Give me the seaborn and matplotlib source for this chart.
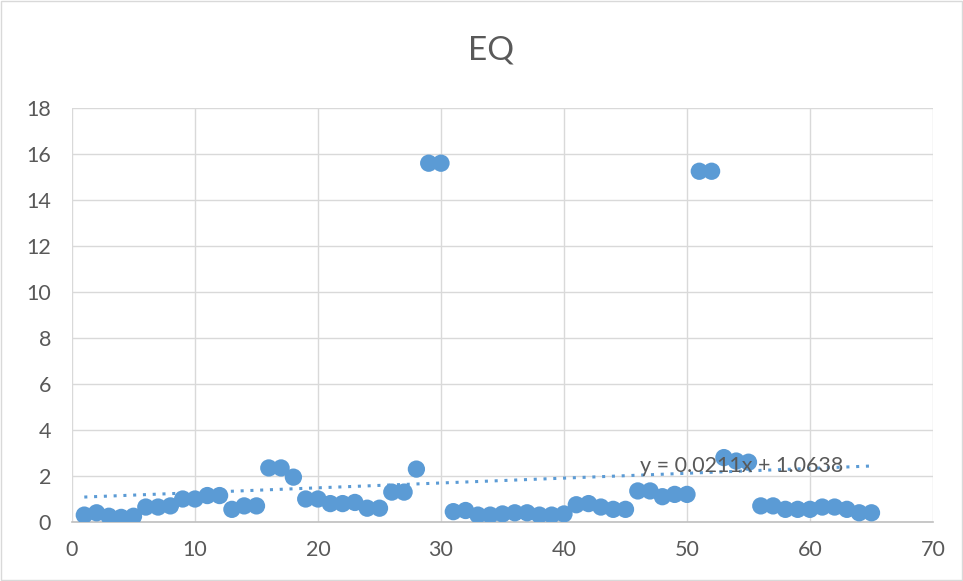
import matplotlib
matplotlib.use("Agg")
import matplotlib.pyplot as plt
import seaborn as sns
import numpy as np
import pandas as pd

x_values = list(range(1, 66))
eq_values = [0.3, 0.4, 0.25, 0.2, 0.25, 0.65, 0.65, 0.7, 1.0, 1.0,
             1.15, 1.15, 0.55, 0.7, 0.7, 2.35, 2.35, 1.95, 1.0, 1.0,
             0.8, 0.8, 0.85, 0.6, 0.6, 1.3, 1.3, 2.3, 15.6, 15.6,
             0.45, 0.5, 0.3, 0.3, 0.35, 0.4, 0.4, 0.3, 0.3, 0.35,
             0.75, 0.8, 0.65, 0.55, 0.55, 1.35, 1.35, 1.1, 1.2, 1.2,
             15.25, 15.25, 2.8, 2.65, 2.6, 0.7, 0.7, 0.55, 0.55, 0.55,
             0.65, 0.65, 0.55, 0.4, 0.4]
trend_slope = 0.0211
trend_intercept = 1.0638
trend_label = "y = 0.0211x + 1.0638"
title = "EQ"
x_ticks = [0, 10, 20, 30, 40, 50, 60, 70]
y_ticks = [0, 2, 4, 6, 8, 10, 12, 14, 16, 18]

df = pd.DataFrame({"x": x_values, "EQ": eq_values})

sns.set_theme(style="white")
plt.rcParams['font.family'] = ['Lato', 'DejaVu Sans']

fig = plt.figure(figsize=(9.63, 5.81), dpi=100)
ax = fig.add_axes([72/963, 1-522/581, (933-72)/963, (522-108)/581])

color = "#5B9BD5"
sns.scatterplot(data=df, x="x", y="EQ", ax=ax, color=color, s=155,
                edgecolor="none", zorder=3, legend=False)

tx = np.array([min(x_values), max(x_values)])
ty = trend_slope * tx + trend_intercept
ax.plot(tx, ty, linestyle=(0, (1, 2.2)), color=color, linewidth=2.2, zorder=4)
ax.text(46.2, 2.45, trend_label, fontsize=15.5, color="#595959",
        va="center", ha="left", zorder=5)

ax.set_xlim(0, 70)
ax.set_ylim(0, 18)
ax.set_xticks(x_ticks)
ax.set_yticks(y_ticks)
ax.set_xlabel("")
ax.set_ylabel("")
ax.grid(True, color="#D9D9D9", linewidth=1)
ax.set_axisbelow(True)
for s in ["top", "right", "left"]:
    ax.spines[s].set_visible(False)
ax.spines["bottom"].set_color("#BFBFBF")
ax.spines["bottom"].set_linewidth(1.2)
ax.tick_params(axis="both", labelsize=15.5, colors="#595959", length=0)
ax.tick_params(axis="x", pad=13)
ax.tick_params(axis="y", pad=15)
for lbl in ax.get_xticklabels() + ax.get_yticklabels():
    lbl.set_color("#595959")

fig.text(491/963, 1-50/581, title, fontsize=24, color="#595959",
         ha="center", va="center")

border = plt.Rectangle((0.001, 0.001), 0.998, 0.998, transform=fig.transFigure,
                       fill=False, edgecolor="#D9D9D9", linewidth=1)
fig.patches.append(border)

fig.savefig("out.png", dpi=100, facecolor="white")
